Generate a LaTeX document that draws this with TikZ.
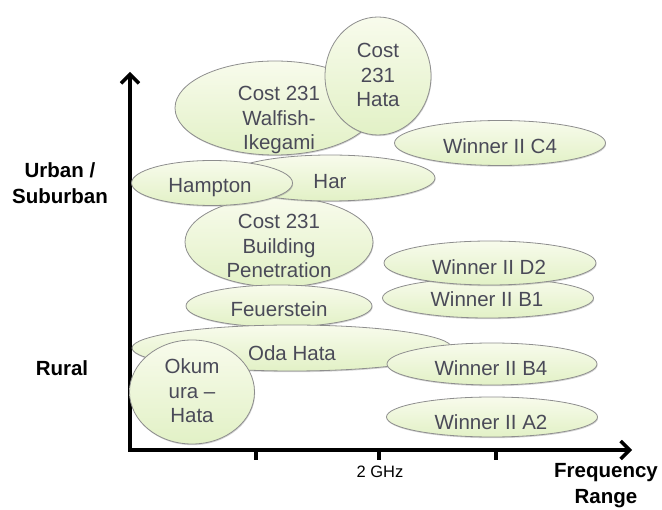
\documentclass[tikz,border=0pt]{standalone}
\usepackage{fontspec}
\setmainfont{Liberation Sans}
\usetikzlibrary{arrows.meta,shapes.geometric,shadows}
\definecolor{ftop}{HTML}{F8FBEC}
\definecolor{fbot}{HTML}{E2F1C6}
\definecolor{edge}{HTML}{8E8E8E}
\definecolor{txt}{HTML}{4A4A58}
\newcommand{\bubble}[8]{%
  \node[bub,minimum width=#4pt,minimum height=#5pt] (#1) at (#2,#3) {};
  \node[btxt] (#1-t) at (#6,#7) {#8};}
\begin{document}
\begin{tikzpicture}[x=1pt,y=-1pt,
  bub/.style={ellipse,draw=edge,line width=0.8pt,top color=ftop,bottom color=fbot,inner sep=0pt,
    drop shadow={shadow xshift=0.6pt,shadow yshift=-1.2pt,opacity=0.35,fill=gray}},
  btxt/.style={inner sep=0pt,text=txt,align=center,font=\fontsize{20.5}{24.5}\selectfont},
  axis/.style={line width=4pt,-{Straight Barb[length=9pt,width=18pt,line width=3.5pt]}},
  lab/.style={font=\fontsize{20.5}{26}\selectfont\bfseries,align=center,text=black}]
\useasboundingbox (0,0) rectangle (662,510);
% axes
\coordinate (yb) at (130,452);
\coordinate (yt) at (130,72);
\coordinate (xb) at (128,450);
\coordinate (xt) at (632,450);
\draw[axis] (yb) -- (yt);
\draw[axis] (xb) -- (xt);
\coordinate (t1) at (256,450); \coordinate (t1b) at (256,460);
\coordinate (t2) at (379,450); \coordinate (t2b) at (379,460);
\coordinate (t3) at (496,450); \coordinate (t3b) at (496,460);
\draw[line width=4pt] (t1) -- (t1b);
\draw[line width=4pt] (t2) -- (t2b);
\draw[line width=4pt] (t3) -- (t3b);
\node[font=\fontsize{16.5}{19}\selectfont,text=black] (ghz) at (380,472) {2 GHz};
\node[lab] (freq) at (606,486) {Frequency\\Range};
\node[lab] (urban) at (60,183) {Urban /\\Suburban};
\node[lab] (rural) at (62,368) {Rural};
% bubbles
\bubble{walf}{275}{108}{200}{94}{279}{120}{Cost 231\\Walfish-\\Ikegami}
\bubble{hata}{378}{76}{106}{118}{378}{75}{Cost\\231\\Hata}
\bubble{c4}{500}{143}{211}{45}{500}{146}{Winner II C4}
\bubble{bpen}{279}{242}{188}{90}{279}{246}{Cost 231\\Building\\Penetration}
\bubble{har}{330}{178}{210}{46}{330}{182}{Har}
\bubble{hamp}{212}{183}{161}{45}{210}{188}{Hampton}
\bubble{feu}{279}{306}{186}{42}{279}{309}{Feuerstein}
\bubble{b1}{488}{298}{211}{40}{487}{299}{Winner II B1}
\bubble{d2}{490}{263}{212}{44}{489}{267}{Winner II D2}
\bubble{oda}{292}{348}{320}{46}{292}{353}{Oda Hata}
\bubble{okum}{192}{392}{125}{104}{192}{391}{Okum\\ura –\\Hata}
\bubble{b4}{492}{364}{210}{42}{491}{368}{Winner II B4}
\bubble{a2}{492}{417}{211}{40}{491}{422}{Winner II A2}
\end{tikzpicture}
\end{document}
